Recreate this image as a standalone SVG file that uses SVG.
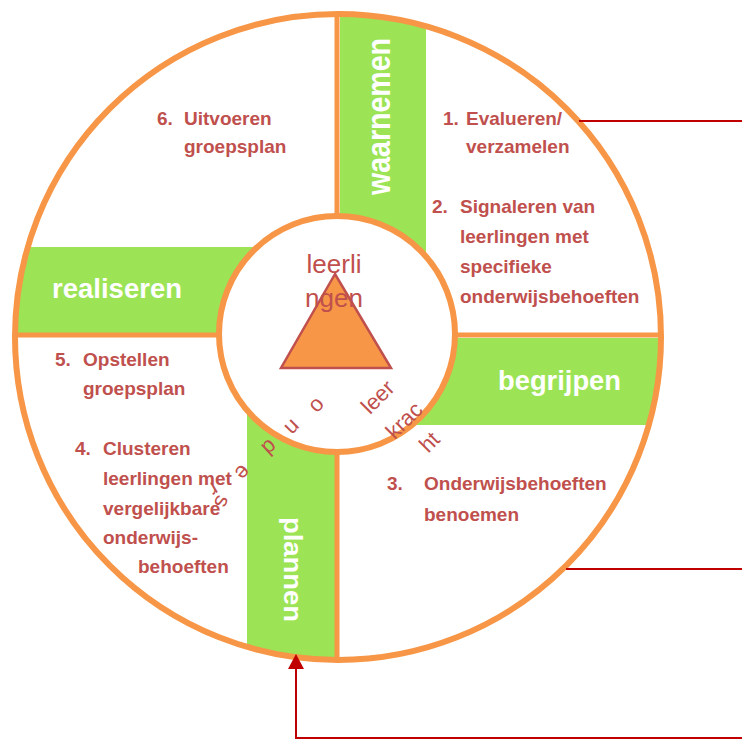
<svg xmlns="http://www.w3.org/2000/svg" width="742" height="739" viewBox="0 0 742 739">
<style>
.band{fill:#9CE456}
.div{stroke:#F79646;stroke-width:5;fill:none}
.lbl{font-family:"Liberation Sans",Arial,sans-serif;font-weight:bold;fill:#FFFFFF}
.step{font-family:"Liberation Sans",Arial,sans-serif;font-weight:bold;font-size:19px;fill:#C0504D}
.ctr{font-family:"Liberation Sans",Arial,sans-serif;font-size:26px;fill:#C0504D}
.arc{font-family:"Liberation Sans",Arial,sans-serif;font-size:22px;fill:#C0504D;text-anchor:middle}
.con{stroke:#C00000;stroke-width:2;fill:none}
</style>
<defs>
<clipPath id="outerClip"><circle cx="338" cy="337" r="323"/></clipPath>
</defs>
<rect width="742" height="739" fill="#FFFFFF"/>
<g id="wheel">
<circle cx="338" cy="337" r="323" fill="#FFFFFF"/>
<g clip-path="url(#outerClip)">
<rect class="band" x="340" y="0" width="86" height="336"/>
<rect class="band" x="337" y="338" width="330" height="87"/>
<rect class="band" x="247" y="334" width="88" height="330"/>
<rect class="band" x="0" y="247" width="337" height="86"/>
<line class="div" x1="337" y1="0" x2="337" y2="670"/>
<line class="div" x1="0" y1="335" x2="670" y2="335"/>
</g>
<circle cx="338" cy="337" r="323" fill="none" stroke="#F79646" stroke-width="6"/>
</g>
<g id="waarnemen">
<text class="lbl" font-size="33" text-anchor="middle" textLength="157" lengthAdjust="spacingAndGlyphs" transform="translate(390,116.5) rotate(-90)">waarnemen</text>
</g>
<g id="begrijpen">
<text class="lbl" font-size="27" x="498" y="390" textLength="123" lengthAdjust="spacingAndGlyphs">begrijpen</text>
</g>
<g id="plannen">
<text class="lbl" font-size="25.5" text-anchor="middle" textLength="105" lengthAdjust="spacingAndGlyphs" transform="translate(283.5,569.5) rotate(90)">plannen</text>
</g>
<g id="realiseren">
<text class="lbl" font-size="27" x="52" y="298" textLength="130" lengthAdjust="spacingAndGlyphs">realiseren</text>
</g>
<g id="center">
<circle cx="337" cy="334" r="118" fill="#FFFFFF" stroke="#F79646" stroke-width="6"/>
<polygon points="335,274 281,368 391,368" fill="#F79646" stroke="#C0504D" stroke-width="2.5" stroke-linejoin="miter"/>
<text class="ctr" x="334" y="273" text-anchor="middle">leerli</text>
<text class="ctr" x="334" y="307" text-anchor="middle">ngen</text>
<g id="ouders">
<text class="arc" transform="translate(316.7,405) rotate(135)" y="5.7">o</text>
<text class="arc" transform="translate(291.7,426.7) rotate(135)" y="5.7">n</text>
<text class="arc" transform="translate(270,448) rotate(138)" y="8">d</text>
<text class="arc" transform="translate(241.7,471.7) rotate(130)" y="5.7">e</text>
<text class="arc" transform="translate(213,488) rotate(150)" y="5.7">r</text>
<text class="arc" transform="translate(221,501) rotate(110)" y="5.7">s</text>
</g>
<g id="leerkracht">
<text class="arc" transform="translate(377.3,396.7) rotate(-45)" y="8">leer</text>
<text class="arc" transform="translate(403.7,420) rotate(-45)" y="8">krac</text>
<text class="arc" transform="translate(429,441.7) rotate(-45)" y="8">ht</text>
</g>
</g>
<g id="step1">
<text class="step" x="443" y="125">1.</text>
<text class="step" x="466" y="125">Evalueren/</text>
<text class="step" x="466" y="153">verzamelen</text>
</g>
<g id="step2">
<text class="step" x="432" y="213">2.</text>
<text class="step" x="460" y="213">Signaleren van</text>
<text class="step" x="460" y="243">leerlingen met</text>
<text class="step" x="460" y="273">specifieke</text>
<text class="step" x="460" y="303">onderwijsbehoeften</text>
</g>
<g id="step3">
<text class="step" x="387" y="490">3.</text>
<text class="step" x="424" y="490">Onderwijsbehoeften</text>
<text class="step" x="424" y="521">benoemen</text>
</g>
<g id="step4">
<text class="step" x="75" y="455">4.</text>
<text class="step" x="103" y="455">Clusteren</text>
<text class="step" x="103" y="485">leerlingen met</text>
<text class="step" x="103" y="515">vergelijkbare</text>
<text class="step" x="103" y="544">onderwijs-</text>
<text class="step" x="138" y="573">behoeften</text>
</g>
<g id="step5">
<text class="step" x="55" y="366">5.</text>
<text class="step" x="83" y="366">Opstellen</text>
<text class="step" x="83" y="395">groepsplan</text>
</g>
<g id="step6">
<text class="step" x="157" y="125">6.</text>
<text class="step" x="184" y="125">Uitvoeren</text>
<text class="step" x="184" y="153">groepsplan</text>
</g>
<g id="connectors">
<line class="con" x1="579" y1="121" x2="742" y2="121"/>
<line class="con" x1="566" y1="569" x2="742" y2="569"/>
<polyline class="con" points="742,738 296,738 296,667"/>
<polygon points="296,654 288,669 304,669" fill="#C00000"/>
</g>
</svg>
